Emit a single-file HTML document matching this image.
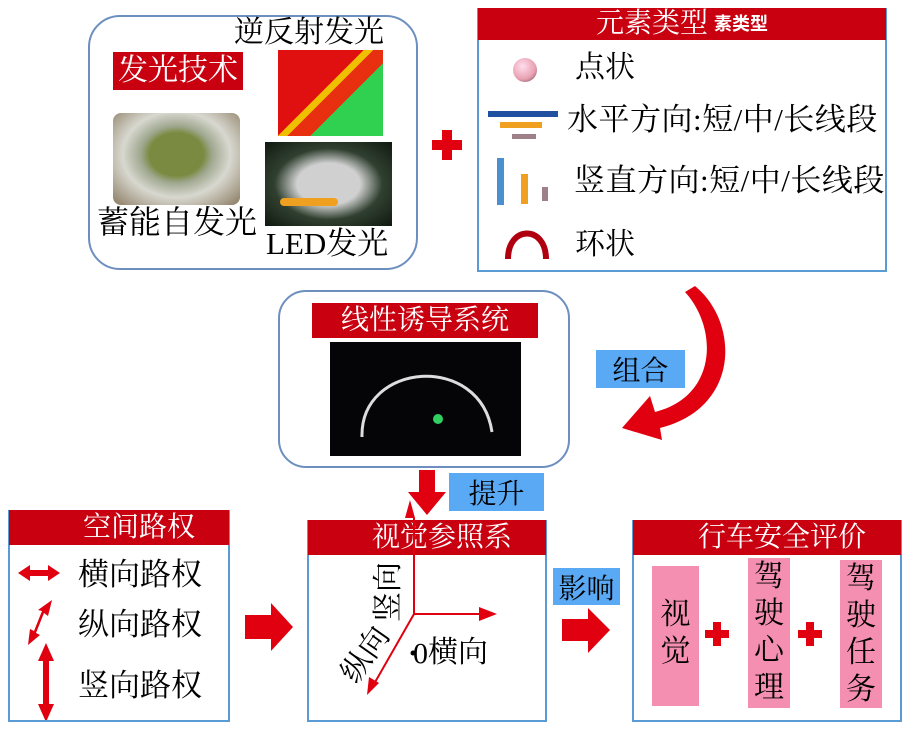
<!DOCTYPE html>
<html><head><meta charset="utf-8"><style>
body{margin:0;width:909px;height:732px;background:#fff;position:relative;overflow:hidden;font-family:"Liberation Serif","Noto Serif CJK SC","Noto Sans CJK SC",serif;}
.a{position:absolute;}
.t{position:absolute;font-size:30px;color:#000;white-space:nowrap;line-height:1;}
.hdr{position:absolute;background:#c8000f;color:#fff;font-size:28px;line-height:1;display:flex;align-items:center;justify-content:center;}
.box{position:absolute;border:2px solid #5b9bd5;box-sizing:border-box;background:#fff;}
.blue{position:absolute;background:#5aa9f5;font-size:28px;display:flex;align-items:center;justify-content:center;}
.pink{position:absolute;background:#f48fb1;font-size:30px;line-height:37px;text-align:center;}
</style></head><body>
<div class="a" style="left:88px;top:15px;width:330px;height:255px;border:2px solid #6d8fc0;border-radius:32px;box-sizing:border-box"></div>
<div class="hdr" style="left:113px;top:52px;width:130px;height:38px;font-size:30px">发光技术</div>
<div class="t" style="left:234px;top:18px">逆反射发光</div>
<div class="a" style="left:278px;top:50px;width:105px;height:86px;background:linear-gradient(135deg,#e01010 0 45%,#f0c000 45% 50%,#e83010 50% 62%,#30d050 62%)"></div>
<div class="a" style="left:113px;top:113px;width:127px;height:92px;border-radius:8px;background:radial-gradient(ellipse at 50% 45%,#7a8a40 0 30%,#a0a890 40%,#d8d8d0 60%,#8a7a60 100%)"></div>
<div class="t" style="left:97px;top:206px;font-size:32px">蓄能自发光</div>
<div class="a" style="left:265px;top:142px;width:127px;height:84px;background:radial-gradient(ellipse at 50% 50%,#d0d0d0 0 35%,#304030 60%,#101810)"></div>
<div class="a" style="left:280px;top:198px;width:58px;height:8px;background:#f0a020;border-radius:4px"></div>
<div class="t" style="left:266px;top:228px;font-size:31px">LED发光</div>
<svg class="a" style="left:430px;top:128px" width="34" height="34"><path d="M12 2h10v10h10v10h-10v10h-10v-10h-10v-10h10z" fill="#e00010"/></svg>
<div class="box" style="left:477px;top:8px;width:410px;height:264px"></div>
<div class="hdr" style="left:478px;top:8px;width:408px;height:32px"><span>元素类型</span><span style="font-size:18px;font-family:'Liberation Sans','Noto Sans CJK SC',sans-serif;font-weight:bold;margin-left:6px">素类型</span></div>
<div class="a" style="left:513px;top:58px;width:24px;height:24px;border-radius:50%;background:radial-gradient(circle at 40% 35%,#fde 0,#e8a0b0 60%,#604050)"></div>
<div class="t" style="left:575px;top:53px">点状</div>
<div class="a" style="left:488px;top:111px;width:70px;height:6px;background:#2050a0"></div>
<div class="a" style="left:500px;top:122px;width:42px;height:6px;background:#f0a020"></div>
<div class="a" style="left:512px;top:134px;width:24px;height:5px;background:#a08088"></div>
<div class="t" style="left:567px;top:104px;font-size:31px;letter-spacing:0.5px">水平方向:短/中/长线段</div>
<div class="a" style="left:497px;top:158px;width:7px;height:47px;background:#4a90d0"></div>
<div class="a" style="left:521px;top:174px;width:7px;height:30px;background:#f0a020"></div>
<div class="a" style="left:542px;top:187px;width:6px;height:14px;background:#a08088"></div>
<div class="t" style="left:574px;top:165px;font-size:31px;letter-spacing:0.5px">竖直方向:短/中/长线段</div>
<svg class="a" style="left:502px;top:215px" width="50" height="46"><path d="M6 44 C6 10 44 10 44 44" stroke="#b00010" stroke-width="6" fill="none"/></svg>
<div class="t" style="left:575px;top:230px">环状</div>
<div class="a" style="left:278px;top:290px;width:292px;height:178px;border:2px solid #6d8fc0;border-radius:28px;box-sizing:border-box"></div>
<div class="hdr" style="left:312px;top:303px;width:226px;height:35px">线性诱导系统</div>
<div class="a" style="left:330px;top:342px;width:191px;height:114px;background:#050508"></div>
<svg class="a" style="left:330px;top:342px" width="191" height="114"><path d="M32 95 C30 20 150 10 162 90" stroke="#ddd" stroke-width="3" fill="none"/><circle cx="108" cy="77" r="5" fill="#30d060"/></svg>
<svg class="a" style="left:600px;top:278px" width="140" height="170"><path d="M95 8 C140 45 140 130 60 150 L62 162 L22 150 L50 118 L55 134 C118 118 118 50 85 14 Z" fill="#e00010"/></svg>
<div class="blue" style="left:596px;top:350px;width:89px;height:38px">组合</div>
<svg class="a" style="left:408px;top:470px" width="38" height="45"><path d="M11 0h16v22h11l-19 23l-19-23h11z" fill="#e00010"/></svg>
<div class="blue" style="left:449px;top:473px;width:95px;height:38px">提升</div>
<div class="box" style="left:8px;top:510px;width:222px;height:212px"></div>
<div class="hdr" style="left:9px;top:510px;width:220px;height:35px;padding-left:40px;box-sizing:border-box">空间路权</div>
<svg class="a" style="left:10px;top:555px" width="70" height="165">
<path d="M8 18l12-8v5h18v-5l12 8l-12 8v-5h-18v5z" fill="#e00010"/>
<path d="M42 45l-4 16l-4-3l-8 20l4 2l-12 10l2-16l4 2l8-20l-4-1z" fill="#e00010"/>
<path d="M36 88l8 18h-5v43h5l-8 18l-8-18h5v-43h-5z" fill="#e00010"/>
</svg>
<div class="t" style="left:78px;top:559px;font-size:31px">横向路权</div>
<div class="t" style="left:78px;top:609px;font-size:31px">纵向路权</div>
<div class="t" style="left:78px;top:670px;font-size:31px">竖向路权</div>
<svg class="a" style="left:245px;top:603px" width="50" height="48"><path d="M0 12h26v-12l22 24l-22 24v-12h-26z" fill="#e00010"/></svg>
<div class="box" style="left:307px;top:520px;width:240px;height:202px"></div>
<div class="hdr" style="left:308px;top:520px;width:238px;height:35px;padding-left:30px;box-sizing:border-box">视觉参照系</div>
<svg class="a" style="left:307px;top:500px" width="240" height="222">
<path d="M107 18v96h70" stroke="#e00010" stroke-width="2" fill="none"/>
<path d="M172 107l18 7l-18 7z" fill="#e00010"/>
<path d="M103 0l5 18h-10z" fill="#e00010"/>
<path d="M107 114l-40 70" stroke="#e00010" stroke-width="2"/>
<path d="M60 195l2-18l10 6z" fill="#e00010"/>
<circle cx="106" cy="153" r="2.5" fill="#000"/>
</svg>
<div class="t" style="transform:rotate(-90deg);transform-origin:0 0;top:622px;left:374px">竖向</div>
<div class="t" style="left:336px;top:640px;transform:rotate(-55deg)">纵向</div>
<div class="t" style="left:413px;top:638px"><span style="display:inline-block;transform:rotate(180deg)">0</span>横向</div>
<div class="blue" style="left:553px;top:568px;width:67px;height:37px">影响</div>
<svg class="a" style="left:562px;top:608px" width="50" height="45"><path d="M0 11h26v-11l22 22l-22 23v-12h-26z" fill="#e00010"/></svg>
<div class="box" style="left:632px;top:520px;width:270px;height:202px"></div>
<div class="hdr" style="left:633px;top:520px;width:268px;height:35px;padding-left:30px;box-sizing:border-box">行车安全评价</div>
<div class="pink" style="left:652px;top:566px;width:47px;height:140px;padding-top:30px;box-sizing:border-box">视<br>觉</div>
<div class="pink" style="left:748px;top:558px;width:42px;height:150px">驾<br>驶<br>心<br>理</div>
<div class="pink" style="left:840px;top:560px;width:42px;height:148px">驾<br>驶<br>任<br>务</div>
<svg class="a" style="left:703px;top:620px" width="28" height="28"><path d="M10 2h8v8h8v8h-8v8h-8v-8h-8v-8h8z" fill="#e00010"/></svg>
<svg class="a" style="left:796px;top:620px" width="28" height="28"><path d="M10 2h8v8h8v8h-8v8h-8v-8h-8v-8h8z" fill="#e00010"/></svg>
</body></html>
